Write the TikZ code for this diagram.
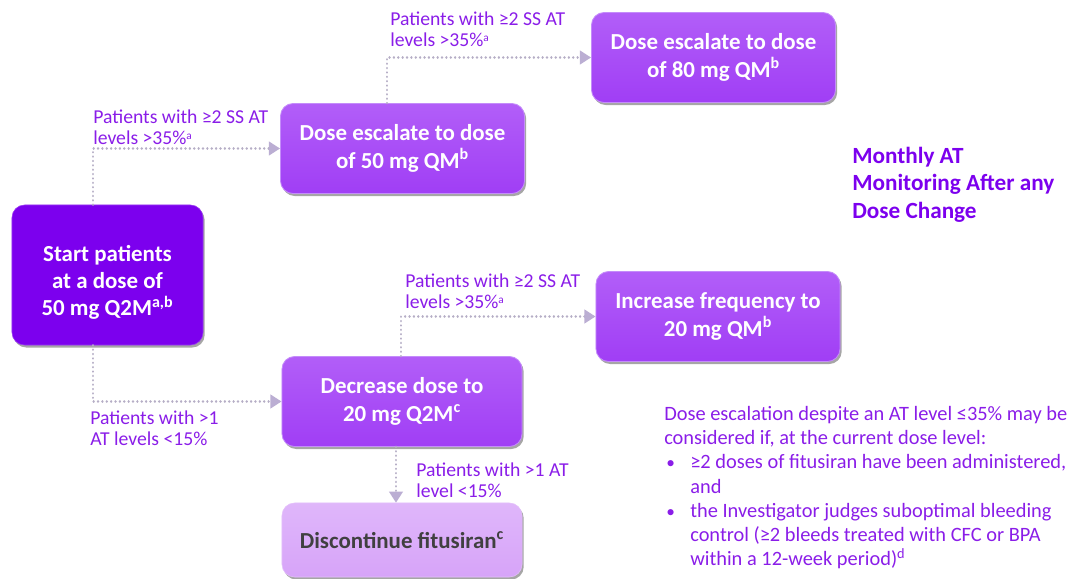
\documentclass[tikz,border=0pt]{standalone}
\usepackage{fontspec}
\setmainfont{Carlito}
\usepackage{xcolor}
\usepackage{tikz}
\usetikzlibrary{arrows.meta,shadows}

\definecolor{startviolet}{HTML}{7C00EE}
\definecolor{stepviolet}{HTML}{A03EF5}
\definecolor{steptop}{HTML}{B25EF8}
\definecolor{stepedge}{HTML}{C48CFA}
\definecolor{stoplilac}{HTML}{D7A4F9}
\definecolor{labviolet}{HTML}{8A1DE8}
\definecolor{linkgrey}{HTML}{B6AEC6}
\definecolor{tipgrey}{HTML}{BBAED3}

% small raised footnote mark
\newcommand{\fnmark}[1]{\raisebox{0.5ex}{\fontsize{8}{8}\selectfont #1}}

\begin{document}
\begin{tikzpicture}[
    x=0.025cm, y=-0.025cm,
    box/.style={rounded corners=9pt, align=center, font=\fontsize{16.3}{19.5}\selectfont\bfseries,
      text=white, inner sep=0pt,
      drop shadow={shadow xshift=1.2pt, shadow yshift=-1.8pt, opacity=0.35, fill=black}},
    startbox/.style={box, fill=startviolet, draw=startviolet!80!white,
      minimum width=4.775cm, minimum height=3.5cm},
    dosebox/.style={box, top color=steptop, bottom color=stepviolet, draw=stepedge, line width=0.6pt,
      minimum width=6.1cm, minimum height=2.25cm},
    stopbox/.style={box, top color=stoplilac!80!white, bottom color=stoplilac, draw=stoplilac!70!white,
      text=black!75, minimum width=6cm, minimum height=1.85cm},
    link/.style={draw=linkgrey, line width=1.8pt, dash pattern=on 0.01pt off 3.1pt, line cap=round,
      -{Triangle[length=2.8mm, width=3.4mm, fill=tipgrey, color=tipgrey, line cap=butt]}},
    lab/.style={align=left, inner sep=0pt, text=labviolet, font=\fontsize{14}{14.6}\selectfont}
  ]
    \useasboundingbox (0,0) rectangle (1068,579);

    % boxes
    \node[startbox] (start) at (107.5,275) {\rule{0pt}{22pt}Start patients\\at a dose of\\50 mg Q2M\textsuperscript{a,b}};
    \node[dosebox] (esc50) at (402.5,148.5) {Dose escalate to dose\\of 50 mg QM\textsuperscript{b}};
    \node[dosebox] (esc80) at (713.5,57.5) {Dose escalate to dose\\of 80 mg QM\textsuperscript{b}};
    \node[dosebox] (incfreq) at (718,316.5) {Increase frequency to\\20 mg QM\textsuperscript{b}};
    \node[dosebox, minimum width=6cm] (decr) at (402,401.5) {Decrease dose to\\20 mg Q2M\textsuperscript{c}};
    \node[stopbox] (disc) at (402,540) {Discontinue fitusiran\textsuperscript{c}};

    % bends of the connectors
    \coordinate (k1) at (93,0);
    \coordinate (k2) at (387,0);
    \coordinate (k3) at (401,0);
    \coordinate (k4) at (396,0);

    \draw[link] (start.north -| k1) |- (esc50.west);
    \draw[link] (esc50.north -| k2) |- (esc80.west);
    \draw[link] (start.south -| k1) |- (decr.west);
    \draw[link] (decr.north -| k3) |- (incfreq.west);
    \draw[link] (decr.south -| k4) -- (disc.north -| k4);

    % labels
    \node[lab, anchor=north west] (lab1) at (93,110) {Patients with ≥2 SS AT\\levels >35\%\fnmark{a}};
    \node[lab, anchor=north west] (lab2) at (390,12) {Patients with ≥2 SS AT\\levels >35\%\fnmark{a}};
    \node[lab, anchor=north west] (lab3) at (90,411) {Patients with >1\\AT levels <15\%};
    \node[lab, anchor=north west] (lab4) at (405,274) {Patients with ≥2 SS AT\\levels >35\%\fnmark{a}};
    \node[lab, anchor=north west] (lab5) at (416,463) {Patients with >1 AT\\level <15\%};

    \node[lab, anchor=north west, font=\fontsize{16.5}{19.5}\selectfont\bfseries, text=startviolet]
      (monthly) at (852,147) {Monthly AT\\Monitoring After any\\Dose Change};

    \node[lab, anchor=north west, font=\fontsize{14.5}{17.2}\selectfont] (note) at (664,406)
      {Dose escalation despite an AT level ≤35\% may be\\
       considered if, at the current dose level:\\
       \makebox[0.65cm][l]{\hspace{0.05cm}\scalebox{0.85}{•}}≥2 doses of fitusiran have been administered,\\
       \hspace*{0.65cm}and\\
       \makebox[0.65cm][l]{\hspace{0.05cm}\scalebox{0.85}{•}}the Investigator judges suboptimal bleeding\\
       \hspace*{0.65cm}control (≥2 bleeds treated with CFC or BPA\\
       \hspace*{0.65cm}within a 12-week period)\textsuperscript{d}};
  \end{tikzpicture}
\end{document}
